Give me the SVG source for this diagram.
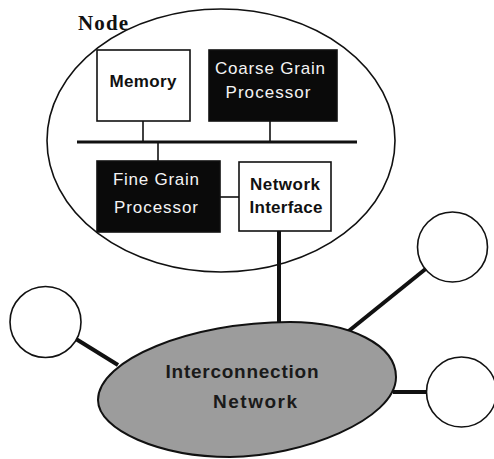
<svg xmlns="http://www.w3.org/2000/svg" width="494" height="459" viewBox="0 0 494 459">
  <style>
    .outline { fill: #fff; stroke: #111; stroke-width: 1.6; }
    .dark { fill: #0a0a0a; stroke: #111; stroke-width: 1.6; }
    .thin { stroke: #111; stroke-width: 1.6; fill: none; }
    .thick { stroke: #111; stroke-width: 4; fill: none; }
    .lbl { font-family: "Liberation Sans", Arial, sans-serif; font-size: 17px; text-anchor: middle; }
    .bold { font-weight: bold; fill: #111; }
    .inv { fill: #f4f4f4; }
    .net { font-size: 19px; font-weight: bold; fill: #1a1a1a; }
  </style>

  <!-- node enclosure -->
  <g id="node">
    <ellipse cx="221" cy="140.5" rx="174" ry="131.5" class="outline"/>
    <text x="78" y="30" font-family="'Liberation Serif', 'Times New Roman', serif" font-size="21" font-weight="bold" fill="#111" textLength="50">Node</text>
  </g>

  <!-- connectors -->
  <g id="connectors">
    <line x1="77" y1="142" x2="357" y2="142" stroke="#111" stroke-width="3"/>
    <line x1="143" y1="121" x2="143" y2="142" class="thin"/>
    <line x1="270" y1="121" x2="270" y2="142" class="thin"/>
    <line x1="158" y1="142" x2="158" y2="161" class="thin"/>
    <line x1="220" y1="197" x2="239" y2="197" class="thin"/>
    <line x1="279" y1="231" x2="279" y2="323" class="thick"/>
    <line x1="76" y1="339" x2="118" y2="365" class="thick"/>
    <line x1="345" y1="334" x2="428" y2="267" class="thick"/>
    <line x1="393" y1="392" x2="427" y2="392" class="thick"/>
  </g>

  <g id="memory">
    <rect x="97" y="50" width="93" height="71" class="outline"/>
    <text x="143" y="87" class="lbl bold" textLength="67">Memory</text>
  </g>

  <g id="coarse-grain-processor">
    <rect x="209" y="50" width="128" height="71" class="dark"/>
    <text x="270" y="74" class="lbl inv" textLength="110">Coarse Grain</text>
    <text x="268" y="98" class="lbl inv" textLength="85">Processor</text>
  </g>

  <g id="fine-grain-processor">
    <rect x="97" y="161" width="123" height="71" class="dark"/>
    <text x="156" y="185" class="lbl inv" textLength="86">Fine Grain</text>
    <text x="156" y="213" class="lbl inv" textLength="84">Processor</text>
  </g>

  <g id="network-interface">
    <rect x="239" y="162" width="92" height="69" class="outline"/>
    <text x="285" y="190" class="lbl bold" textLength="70">Network</text>
    <text x="286" y="213" class="lbl bold" textLength="73">Interface</text>
  </g>

  <g id="interconnection-network">
    <path d="M290,322 C350,322 396,345 396,377 C396,420 300,457 230,457 C160,457 98,430 98,400 C98,360 190,322 290,322 Z" fill="#9c9c9c" stroke="#111" stroke-width="2"/>
    <text x="242" y="378" class="lbl net" textLength="153">Interconnection</text>
    <text x="255" y="408" class="lbl net" textLength="84">Network</text>
  </g>

  <g id="peer-left">
    <circle cx="45.5" cy="322" r="35.5" class="outline"/>
  </g>
  <g id="peer-top-right">
    <circle cx="452.5" cy="247" r="35" class="outline"/>
  </g>
  <g id="peer-bottom-right">
    <circle cx="461.5" cy="392" r="35" class="outline"/>
  </g>
</svg>
